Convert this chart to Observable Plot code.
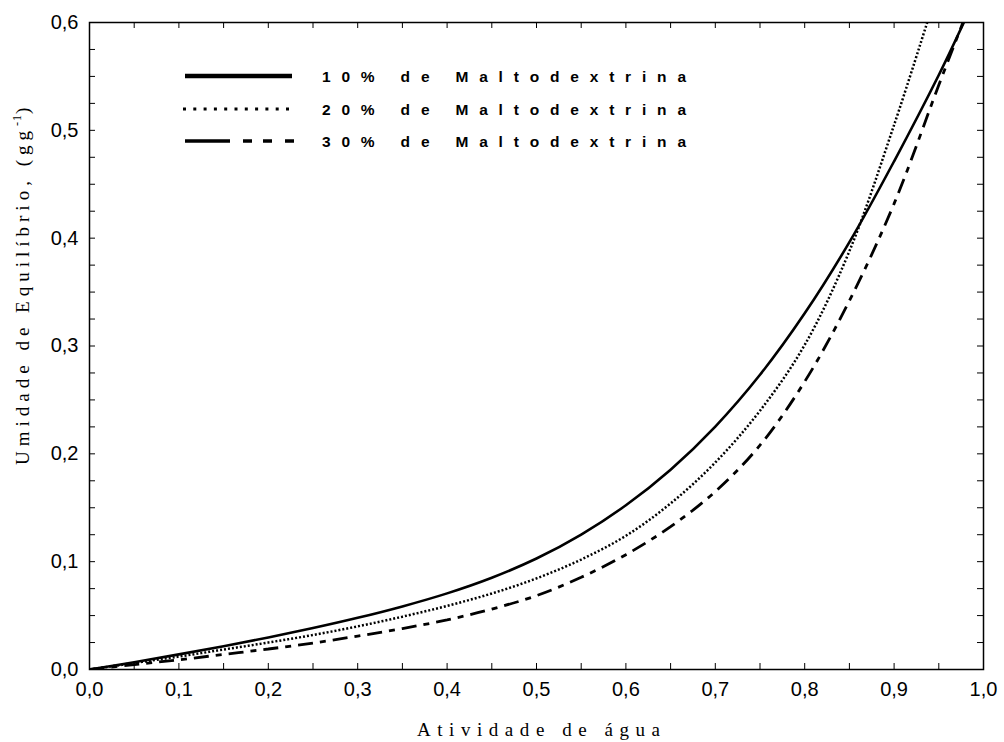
<!DOCTYPE html>
<html>
<head>
<meta charset="utf-8">
<script src="https://cdn.jsdelivr.net/npm/d3@7"></script>
<script src="https://cdn.jsdelivr.net/npm/@observablehq/plot@0.6"></script>
<style>
  html, body { margin: 0; padding: 0; background: #fff; }
  #chart { position: relative; width: 1004px; height: 742px; }
</style>
</head>
<body>
<div id="chart"></div>
<script>
// ---- data ----
const aw10 = [0, 0.05, 0.1, 0.15, 0.2, 0.25, 0.3, 0.35, 0.4, 0.45, 0.5, 0.55, 0.6, 0.65, 0.7, 0.75, 0.8, 0.85, 0.9, 0.95, 0.978];
const m10  = [0, 0.0068, 0.014, 0.0216, 0.0297, 0.0384, 0.0479, 0.0585, 0.0706, 0.0851, 0.1029, 0.1251, 0.1523, 0.1853, 0.2253, 0.2733, 0.3303, 0.3963, 0.4713, 0.5513, 0.6];

const aw20 = [0, 0.05, 0.1, 0.15, 0.2, 0.25, 0.3, 0.35, 0.4, 0.45, 0.5, 0.55, 0.6, 0.65, 0.7, 0.75, 0.8, 0.85, 0.9, 0.937];
const m20  = [0, 0.006, 0.012, 0.0185, 0.025, 0.032, 0.040, 0.049, 0.059, 0.0705, 0.0845, 0.102, 0.124, 0.154, 0.192, 0.240, 0.301, 0.388, 0.505, 0.6];

const aw30 = [0, 0.05, 0.1, 0.15, 0.2, 0.25, 0.3, 0.35, 0.4, 0.45, 0.5, 0.55, 0.6, 0.65, 0.7, 0.75, 0.8, 0.85, 0.9, 0.95, 0.977];
const m30  = [0, 0.0045, 0.009, 0.014, 0.019, 0.0245, 0.031, 0.038, 0.046, 0.056, 0.0685, 0.0855, 0.1065, 0.1325, 0.165, 0.208, 0.267, 0.342, 0.432, 0.542, 0.6];

const seriesLabels = ["10% de Maltodextrina", "20% de Maltodextrina", "30% de Maltodextrina"];
const xMajor = [0, 0.1, 0.2, 0.3, 0.4, 0.5, 0.6, 0.7, 0.8, 0.9, 1.0];
const yMajor = [0, 0.1, 0.2, 0.3, 0.4, 0.5, 0.6];
const xMinor = d3.range(0, 21).map(i => i * 0.05);
const yMinor = d3.range(0, 25).map(i => i * 0.025);
const xTitle = "Atividade de água";
const yTitle = "Umidade de Equilíbrio, (gg";

// ---- build ----
const W = 1004, H = 742, mL = 89, mR = 21, mT = 22, mB = 73;
const pw = W - mL - mR, ph = H - mT - mB;
const fmt = d => d.toFixed(1).replace(".", ",");
const zip = (xs, ys) => xs.map((x, i) => ({x, y: ys[i]}));

const chart = Plot.plot({
  width: W, height: H,
  marginLeft: mL, marginRight: mR, marginTop: mT, marginBottom: mB,
  style: {fontFamily: "'Liberation Sans', Arial, sans-serif", background: "#fff", color: "#000"},
  x: {domain: [0, 1]},
  y: {domain: [0, 0.6]},
  marks: [
    // inward ticks on all four sides
    Plot.tickX(xMinor, {x: d => d, insetTop: ph - 6, stroke: "#000", strokeWidth: 1}),
    Plot.tickX(xMinor, {x: d => d, insetBottom: ph - 6, stroke: "#000", strokeWidth: 1}),
    Plot.tickY(yMinor, {y: d => d, insetRight: pw - 6, stroke: "#000", strokeWidth: 1}),
    Plot.tickY(yMinor, {y: d => d, insetLeft: pw - 6, stroke: "#000", strokeWidth: 1}),
    Plot.axisX({ticks: xMajor, tickSize: 0, tickPadding: 12, tickFormat: fmt, fontSize: 20, label: null}),
    Plot.axisY({ticks: yMajor, tickSize: 0, tickPadding: 11, tickFormat: fmt, fontSize: 20, label: null}),
    Plot.line(zip(aw10, m10), {x: "x", y: "y", curve: "catmull-rom", stroke: "#000", strokeWidth: 2.6, strokeLinecap: "butt", clip: true}),
    Plot.line(zip(aw20, m20), {x: "x", y: "y", curve: "catmull-rom", stroke: "#000", strokeWidth: 2.5, strokeLinecap: "butt", strokeLinejoin: "miter", strokeDasharray: "2,2", clip: true}),
    Plot.line(zip(aw30, m30), {x: "x", y: "y", curve: "catmull-rom", stroke: "#000", strokeWidth: 2.8, strokeLinecap: "butt", strokeLinejoin: "miter", strokeDasharray: "15,7,6,7", clip: true}),
    Plot.frame({stroke: "#000", strokeWidth: 1.5})
  ]
});
document.getElementById("chart").appendChild(chart);

const svg = d3.select(chart);
// x title
svg.append("text")
  .attr("x", 417).attr("y", 736)
  .attr("text-anchor", "start")
  .attr("textLength", 243).attr("lengthAdjust", "spacing")
  .style("font-family", "'Liberation Serif', 'Times New Roman', serif")
  .style("font-size", "19px").attr("fill", "#000")
  .text(xTitle);

// y title
const yt = svg.append("text")
  .attr("transform", "translate(29,465) rotate(-90)")
  .attr("text-anchor", "start")
  .style("font-family", "'Liberation Serif', 'Times New Roman', serif")
  .style("font-size", "19px").style("letter-spacing", "5px").attr("fill", "#000");
yt.append("tspan").text(yTitle);
yt.append("tspan").attr("dy", -8).style("font-size", "12px").style("letter-spacing", "1px").text("-1");
yt.append("tspan").attr("dy", 8).text(")");

// legend
const lg = svg.append("g");
const rows = [76, 109, 141];
const lineStyles = [
  {w: 4.5, dash: null, x1: 185, x2: 292},
  {w: 3, dash: "3,7.3", x1: 183, x2: 290},
  {w: 3.5, dash: "45,13,9,11,9,13,9", x1: 185, x2: 294}
];
seriesLabels.forEach((lab, i) => {
  const s = lineStyles[i];
  const ln = lg.append("line").attr("x1", s.x1).attr("x2", s.x2).attr("y1", rows[i]).attr("y2", rows[i])
    .attr("stroke", "#000").attr("stroke-width", s.w);
  if (s.dash) ln.attr("stroke-dasharray", s.dash);
  lg.append("text").attr("x", 322).attr("y", rows[i] + 5.5)
    .attr("text-anchor", "start")
    .attr("textLength", 364).attr("lengthAdjust", "spacing")
    .style("font-family", "'Liberation Sans', Arial, sans-serif")
    .style("font-weight", "bold").style("font-size", "15.5px").attr("fill", "#000")
    .text(lab);
});
</script>
</body>
</html>
